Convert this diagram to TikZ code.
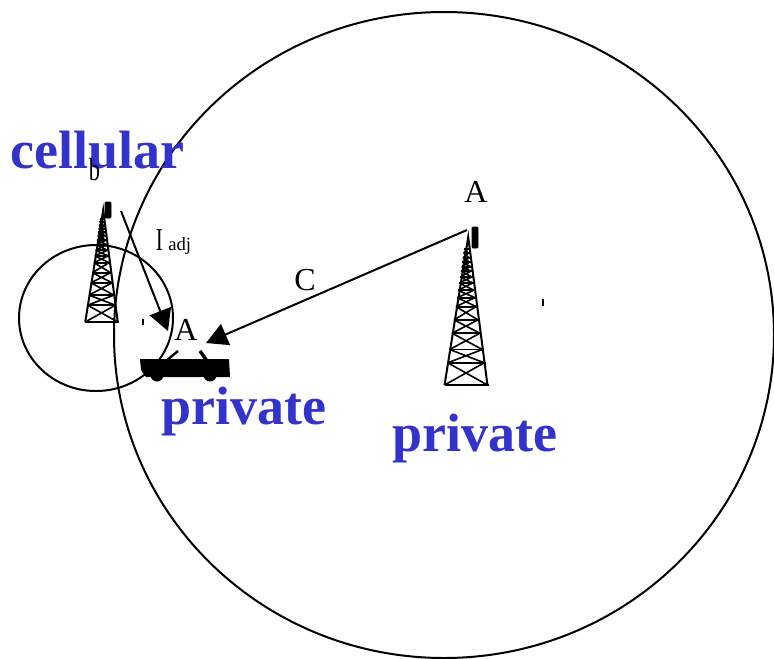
\documentclass[tikz,border=0pt]{standalone}
\usepackage{fontspec}
\setmainfont{Liberation Serif}
\usetikzlibrary{arrows.meta}
\definecolor{labelblue}{HTML}{3333CC}

\begin{document}
\begin{tikzpicture}[
  x=0.75pt,y=-0.75pt,
  cell/.style={draw,line width=1.5pt},
  arrow/.style={-{Triangle[length=16pt,width=17pt]},line width=1.5pt},
  netlabel/.style={anchor=base,text=labelblue,font=\fontsize{40.5}{40}\selectfont\bfseries,inner sep=0pt},
  sigma/.style={anchor=base,font=\fontsize{24}{24}\selectfont,inner sep=0pt},
  antenna/.style={fill=black,rounded corners=0.6pt},
  mark tick/.style={line width=1.5pt},
  tower/.pic={
    \foreach \t [remember=\t as \u (initially 85)] in {100,85,76,65,56,47,41,36,31,27,23,20,17,14,11,8} {
      \pgfmathsetmacro{\a}{0.145*\t}
      \pgfmathsetmacro{\b}{0.145*\u}
      \draw[line width=1.4pt] (-\a,\t) -- (\a+1,\t);
      \ifnum\t<100
        \draw[line width=1.2pt] (-\a,\t) -- (\b,\u) (\a,\t) -- (-\b,\u);
      \fi
    }
    \draw[line width=1.5pt] (-14.5,100) -- (1.5,0) -- (14.5,100);
  }
]
\useasboundingbox (0,0) rectangle (774,658);
% coverage areas
\draw[cell] (444,335) ellipse [x radius=330,y radius=323];
\draw[cell] (96,318) ellipse [x radius=77,y radius=73];
% towers and antennas
\pic[scale=1.12] at (101.5,210) {tower};
\pic[scale=1.48] at (466,237) {tower};
\draw[antenna] (105,202) rectangle (111,218);
\draw[antenna] (472,227) rectangle (478,248);
% car
\fill (140,359) -- (229,359) -- (230,377) -- (146,377) -- (141,370) -- cycle;
\fill (157,375) circle [radius=6.5];
\fill (210,375) circle [radius=6.5];
\draw[line width=1.8pt] (178,351) -- (166,361);
\draw[line width=2.6pt] (200,351) -- (207,361);
% labels
\node[netlabel] (cellular) at (97.5,168) {cellular};
\node[netlabel] (privatea) at (243.5,424) {private};
\node[netlabel] (privateb) at (475,451) {private};
\node[sigma] (ab) at (476,202) {A};
\node[sigma] (aa) at (186,340) {A};
\node[sigma] (c) at (305,290) {C};
\node[sigma] (b) at (94.5,180) {\scalebox{0.7}[1]{b}};
\node[sigma] (iadj) at (173.5,250) {\scalebox{0.66}[1]{I}\,{\fontsize{14}{14}\selectfont adj}};
\coordinate (txa) at (121,211);
\coordinate (rxa) at (168,331);
\coordinate (txb) at (467,230);
\coordinate (rxb) at (206,343);
\draw[arrow] (txa) -- (rxa);
\draw[arrow] (txb) -- (rxb);
% stray ticks
\draw[mark tick] (143,319) -- (143,325);
\draw[mark tick] (543,299) -- (543,306);
\end{tikzpicture}
\end{document}
